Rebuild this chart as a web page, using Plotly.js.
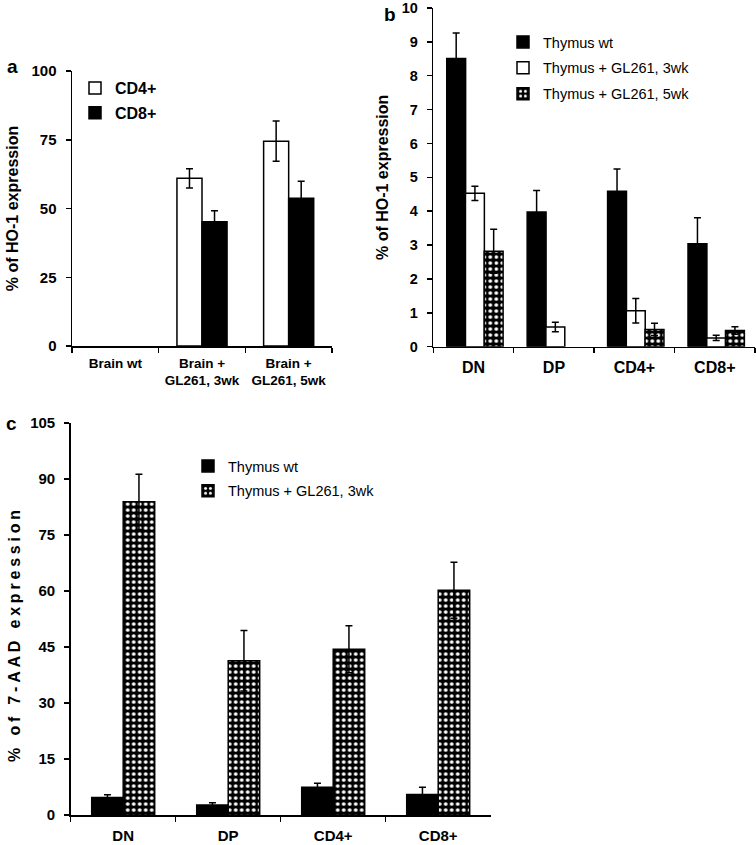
<!DOCTYPE html>
<html>
<head>
<meta charset="utf-8">
<script src="https://cdn.plot.ly/plotly-3.0.1.min.js"></script>
<style>html,body{margin:0;padding:0;background:#fff;}</style>
</head>
<body>
<div id="chart" style="width:756px;height:845px;"></div>
<script>
// ---- Panel a data ----
var catsA = ["Brain wt", "Brain +<br>GL261, 3wk", "Brain +<br>GL261, 5wk"];
var cd4A = [null, 61, 74.5];
var cd4AErr = [0, 3.5, 7.3];
var cd8A = [null, 45.2, 53.7];
var cd8AErr = [0, 4.0, 6.2];

// ---- Panel b data ----
var catsB = ["DN", "DP", "CD4+", "CD8+"];
var wtB = [8.51, 3.98, 4.59, 3.04];
var wtBErr = [0.75, 0.63, 0.66, 0.77];
var gl3B = [4.53, 0.58, 1.06, 0.26];
var gl3BErr = [0.21, 0.14, 0.36, 0.08];
var gl5B = [2.82, null, 0.51, 0.48];
var gl5BErr = [0.65, 0, 0.18, 0.11];

// ---- Panel c data ----
var catsC = ["DN", "DP", "CD4+", "CD8+"];
var wtC = [4.7, 2.7, 7.4, 5.5];
var wtCErr = [0.7, 0.6, 1.1, 1.9];
var gl3C = [83.9, 41.3, 44.4, 60.2];
var gl3CErr = [7.4, 8.1, 6.3, 7.5];

var W = 756, H = 845;
function px(x){ return x / W; }
function py(y){ return (H - y) / H; }

var SANS = "Liberation Sans, Arial, sans-serif";
var BOLD = {family: SANS, weight: "bold", color: "#000"};
var checker = {shape: ".", bgcolor: "#000", fgcolor: "#fff", fgopacity: 1, size: 6, solidity: 0.3};
var outline = {color: "#000", width: 1.5};
function err(arr, w){ return {type: "data", array: arr, visible: true, color: "#000", thickness: 1.5, width: w}; }

var traces = [
  // a
  {type: "bar", name: "CD4+", x: catsA, y: cd4A, xaxis: "x", yaxis: "y", legend: "legend", legendgroup: "a1",
   width: 0.289, offset: -0.289, marker: {color: "#fff", line: outline}, error_y: err(cd4AErr, 3.5)},
  {type: "bar", name: "CD8+", x: catsA, y: cd8A, xaxis: "x", yaxis: "y", legend: "legend", legendgroup: "a2",
   width: 0.289, offset: 0, marker: {color: "#000", line: outline}, error_y: err(cd8AErr, 3.5)},
  // b
  {type: "bar", name: "Thymus wt", x: catsB, y: wtB, xaxis: "x2", yaxis: "y2", legend: "legend2", legendgroup: "b1",
   width: 0.235, offset: -0.333, marker: {color: "#000", line: outline}, error_y: err(wtBErr, 3.5)},
  {type: "bar", name: "Thymus + GL261, 3wk", x: catsB, y: gl3B, xaxis: "x2", yaxis: "y2", legend: "legend2", legendgroup: "b2",
   width: 0.235, offset: -0.1, marker: {color: "#fff", line: outline}, error_y: err(gl3BErr, 3.5)},
  {type: "bar", name: "Thymus + GL261, 5wk", x: catsB, y: gl5B, xaxis: "x2", yaxis: "y2", legend: "legend2", legendgroup: "b3",
   width: 0.235, offset: 0.133, marker: {color: "#000", line: outline, pattern: checker}, error_y: err(gl5BErr, 3.5)},
  // c
  {type: "bar", name: "Thymus wt", x: catsC, y: wtC, xaxis: "x3", yaxis: "y3", legend: "legend3", legendgroup: "c1",
   width: 0.3, offset: -0.3, marker: {color: "#000", line: outline}, error_y: err(wtCErr, 3.5)},
  {type: "bar", name: "Thymus + GL261, 3wk", x: catsC, y: gl3C, xaxis: "x3", yaxis: "y3", legend: "legend3", legendgroup: "c2",
   width: 0.3, offset: 0, marker: {color: "#000", line: outline, pattern: checker}, error_y: err(gl3CErr, 3.5)}
];

function xax(dom, anchor, n, fsize, standoff){
  return {domain: dom, anchor: anchor, type: "category", range: [-0.5, n - 0.5], tickson: "boundaries",
    ticks: "outside", ticklen: 5, tickwidth: 1.5, tickcolor: "#000", showline: true, linecolor: "#000", linewidth: 1.5,
    showgrid: false, zeroline: false, fixedrange: true, ticklabelstandoff: standoff,
    tickfont: Object.assign({}, BOLD, {size: fsize})};
}
function yax(dom, anchor, range, dtick, fsize){
  return {domain: dom, anchor: anchor, range: range, dtick: dtick, tick0: 0,
    ticks: "outside", ticklen: 5, tickwidth: 1.5, tickcolor: "#000", showline: true, linecolor: "#000", linewidth: 1.5,
    showgrid: false, zeroline: false, fixedrange: true, ticklabelstandoff: 6, ticklabeloverflow: "allow",
    tickfont: Object.assign({}, BOLD, {size: fsize})};
}
function lbl(t, x, y){
  return {text: t, xref: "paper", yref: "paper", x: px(x), y: py(y), xanchor: "center", yanchor: "middle",
    showarrow: false, font: Object.assign({}, BOLD, {size: 19})};
}

var layout = {
  width: W, height: H, margin: {l: 0, r: 0, t: 0, b: 0},
  paper_bgcolor: "#fff", plot_bgcolor: "rgba(0,0,0,0)",
  barmode: "group", showlegend: true,
  xaxis: xax([px(72), px(332)], "y", 3, 13.5, 4),
  yaxis: Object.assign(yax([py(346), py(71)], "x", [0, 100], 25, 15),
    {title: {text: "% of HO-1 expression", standoff: 9, font: Object.assign({}, BOLD, {size: 16})}}),
  xaxis2: xax([px(433.3), px(755)], "y2", 4, 16, 6),
  yaxis2: Object.assign(yax([py(346.7), py(8)], "x2", [0, 10], 1, 14.5),
    {title: {text: "% of HO-1 expression", standoff: 9, font: Object.assign({}, BOLD, {size: 16})}}),
  xaxis3: xax([px(70.7), px(490.7)], "y3", 4, 15, 6),
  yaxis3: yax([py(815), py(423)], "x3", [0, 105], 15, 15),
  legend: {x: px(75), y: py(71), xanchor: "left", yanchor: "top", bgcolor: "rgba(0,0,0,0)",
    tracegroupgap: 1, font: Object.assign({}, BOLD, {size: 16})},
  legend2: {x: px(503), y: py(26), xanchor: "left", yanchor: "top", bgcolor: "rgba(0,0,0,0)",
    tracegroupgap: 4, font: {family: SANS, size: 14.5, color: "#000"}},
  legend3: {x: px(188), y: py(450), xanchor: "left", yanchor: "top", bgcolor: "rgba(0,0,0,0)",
    tracegroupgap: 3, font: {family: SANS, size: 14.5, color: "#000"}},
  annotations: [
    lbl("a", 12, 67),
    lbl("b", 390, 15),
    lbl("c", 11, 423),
    {text: "% of 7-AAD expression", xref: "paper", yref: "paper", x: px(14), y: py(634), textangle: -90,
     xanchor: "center", yanchor: "middle", showarrow: false,
     font: Object.assign({}, BOLD, {size: 16})}
  ]
};

Plotly.newPlot("chart", traces, layout, {displayModeBar: false, staticPlot: true}).then(function(gd){
  // the reference draws the panel c axis title with wide letter spacing
  var anns = gd.querySelectorAll(".annotation-text");
  anns.forEach(function(t){
    if (t.textContent.indexOf("7-AAD") >= 0) t.setAttribute("letter-spacing", "3.8px");
  });
});
</script>
</body>
</html>
